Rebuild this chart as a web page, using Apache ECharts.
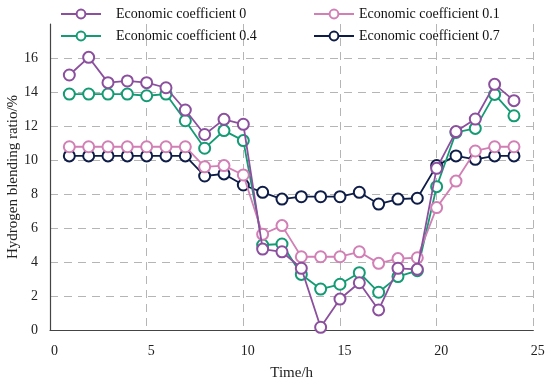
<!DOCTYPE html>
<html>
<head>
<meta charset="utf-8">
<script src="https://cdn.jsdelivr.net/npm/echarts@6/dist/echarts.min.js"></script>
<style>html,body{margin:0;padding:0;background:#fff}#c{width:550px;height:384px}</style>
</head>
<body>
<div id="c"></div>
<script>
var hours = [1,2,3,4,5,6,7,8,9,10,11,12,13,14,15,16,17,18,19,20,21,22,23,24];
var seriesNames = ['Economic coefficient 0','Economic coefficient 0.1','Economic coefficient 0.4','Economic coefficient 0.7'];
var coef0  = [15.0,16.04,14.55,14.65,14.55,14.25,12.94,11.5,12.39,12.1,4.76,4.6,3.63,0.16,1.82,2.78,1.18,3.63,3.57,9.51,11.67,12.41,14.45,13.49];
var coef01 = [10.78,10.78,10.78,10.78,10.78,10.78,10.78,9.6,9.67,9.12,5.63,6.14,4.31,4.31,4.31,4.6,3.92,4.2,4.25,7.2,8.76,10.53,10.78,10.78];
var coef04 = [13.88,13.88,13.88,13.88,13.78,13.88,12.31,10.69,11.73,11.14,5.0,5.06,3.27,2.41,2.69,3.37,2.22,3.14,3.49,8.43,11.62,11.86,13.86,12.6];
var coef07 = [10.24,10.24,10.24,10.24,10.24,10.24,10.24,9.06,9.18,8.53,8.1,7.7,7.84,7.84,7.84,8.1,7.41,7.7,7.75,9.67,10.24,10.04,10.24,10.24];
var yTicks = [0,2,4,6,8,10,12,14,16];
var xTicks = [0,5,10,15,20,25];

var colors = ['#8b4f9e','#d17fb5','#149b73','#0e1c48'];
var datasets = [coef0, coef01, coef04, coef07];
var font = 'Liberation Serif';

function pairs(arr){ return hours.map(function(h,i){ return [h, arr[i]]; }); }

var series = datasets.map(function(d, k){
  return {
    name: seriesNames[k],
    type: 'line',
    data: pairs(d),
    symbol: 'emptyCircle',
    symbolSize: 11,
    lineStyle: {width: 1.8, color: colors[k]},
    itemStyle: {color: colors[k], borderColor: colors[k], borderWidth: 2},
    z: 10 - k
  };
});
var legendPos = [
  {left: 60, top: 7},
  {left: 313, top: 7},
  {left: 60, top: 29},
  {left: 313, top: 29}
];
var legends = seriesNames.map(function(n, k){
  return {
    data: [n],
    left: legendPos[k].left,
    top: legendPos[k].top,
    padding: 0,
    itemWidth: 40,
    itemHeight: 11,
    itemGap: 0,
    textStyle: {fontFamily: font, fontSize: 14, color: '#111', padding: [0,0,0, k % 2 === 0 ? 10 : 0]}
  };
});

var splitColors = [];
for (var i = 0; i < 10; i++) splitColors.push(i === 9 ? 'rgba(0,0,0,0)' : '#b5b5b5');

var chart = echarts.init(document.getElementById('c'));
chart.setOption({
  animation: false,
  backgroundColor: '#fff',
  color: colors,
  legend: legends,
  grid: {left: 50, right: 16.7, top: 24, bottom: 54, containLabel: false, outerBoundsMode: 'none'},
  xAxis: {
    type: 'value', min: 0, max: 25, interval: 5,
    name: 'Time/h', nameLocation: 'middle', nameGap: 36,
    nameTextStyle: {fontFamily: font, fontSize: 15, color: '#222'},
    axisLine: {lineStyle: {color: '#444', width: 1.2}},
    axisTick: {show: false},
    axisLabel: {fontFamily: font, fontSize: 14, color: '#222', margin: 14, padding: [0,0,0,9],
      formatter: function(v){ return xTicks.indexOf(v) >= 0 ? String(v) : ''; }},
    splitLine: {show: true, lineStyle: {color: '#b5b5b5', type: [8,6], width: 1}}
  },
  yAxis: {
    type: 'value', min: 0, max: 18, interval: 2,
    name: 'Hydrogen blending ratio/%', nameLocation: 'middle', nameGap: 29,
    nameMoveOverlap: false,
    nameTextStyle: {fontFamily: font, fontSize: 15, color: '#222'},
    axisLine: {show: true, lineStyle: {color: '#444', width: 1.2}},
    axisTick: {show: false},
    axisLabel: {fontFamily: font, fontSize: 14, color: '#222', margin: 12,
      formatter: function(v){ return yTicks.indexOf(v) >= 0 ? String(v) : ''; }},
    splitLine: {show: true, lineStyle: {color: splitColors, type: [8,6], width: 1}}
  },
  series: series
});
</script>
</body>
</html>
